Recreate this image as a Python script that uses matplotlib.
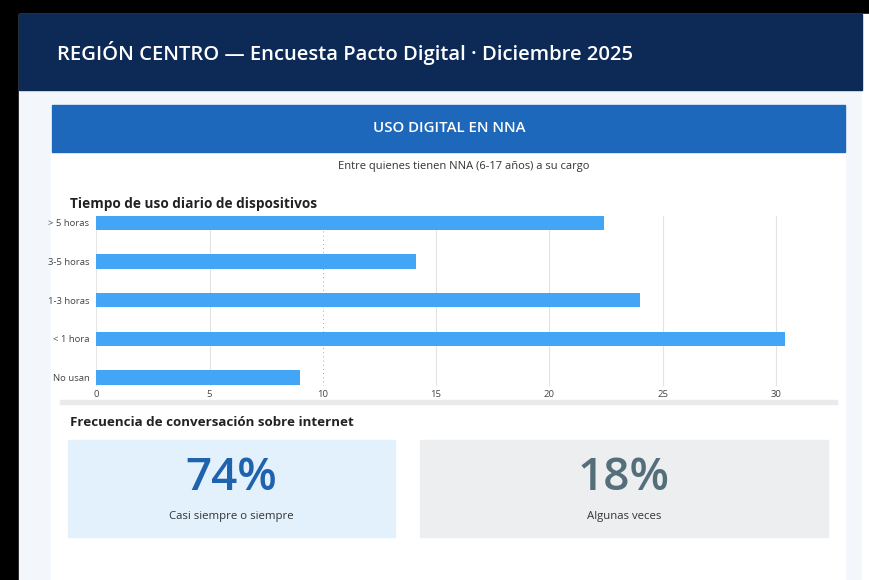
import matplotlib
matplotlib.use("Agg")
import matplotlib.pyplot as plt
from matplotlib.patches import Rectangle

plt.rcParams['font.family'] = ['Open Sans', 'DejaVu Sans']

# ---- data ----
title = "REGIÓN CENTRO — Encuesta Pacto Digital · Diciembre 2025"
banner = "USO DIGITAL EN NNA"
subtitle = "Entre quienes tienen NNA (6-17 años) a su cargo"
chart_title = "Tiempo de uso diario de dispositivos"
categories = ["> 5 horas", "3-5 horas", "1-3 horas", "< 1 hora", "No usan"]
values = [22.4, 14.1, 24.0, 30.4, 9.0]
xticks = [0, 5, 10, 15, 20, 25, 30]
freq_title = "Frecuencia de conversación sobre internet"
kpi_values = ["74%", "18%"]
kpi_labels = ["Casi siempre o siempre", "Algunas veces"]

W, H = 870, 580
fig = plt.figure(figsize=(W / 100, H / 100), dpi=100)
fig.patch.set_facecolor("white")


def rect(x0, y0, x1, y1):
    return [x0 / W, 1 - y1 / H, (x1 - x0) / W, (y1 - y0) / H]


def px(x, y):
    return x / W, 1 - y / H


# background layer
bg = fig.add_axes([0, 0, 1, 1])
bg.set_xlim(0, W)
bg.set_ylim(H, 0)
bg.axis("off")
bg.add_patch(Rectangle((0, 0), W, H, color="black", zorder=0))
bg.add_patch(Rectangle((19, 14), 843, H, color="#f3f7fc", zorder=1))
bg.add_patch(Rectangle((862, 14), 8, H, color="white", zorder=1))
bg.add_patch(Rectangle((51, 105), 794, H, color="white", zorder=2))
# header
bg.add_patch(Rectangle((19, 14), 843, 76, color="#0d2a57", zorder=3))
# banner
bg.add_patch(Rectangle((52, 105), 793, 47, color="#1e68bb", zorder=3))
# separator band
bg.add_patch(Rectangle((60, 400), 777, 4, color="#e9eaec", zorder=3))
# KPI cards
bg.add_patch(Rectangle((68, 440), 327, 97, color="#e3f1fc", zorder=3))
bg.add_patch(Rectangle((420, 440), 408, 97, color="#eceef0", zorder=3))

fig.text(*px(57, 53), title, color="white", fontsize=14.6, fontweight="semibold",
         ha="left", va="center")
fig.text(*px(449, 128), banner, color="white", fontsize=10.8, fontweight="semibold",
         ha="center", va="center")
fig.text(*px(464, 167), subtitle, color="#333333", fontsize=8, ha="center", va="center")
fig.text(*px(70, 204), chart_title, color="#222222", fontsize=9.8, fontweight="bold",
         ha="left", va="center")
fig.text(*px(70, 422), freq_title, color="#222222", fontsize=9.6, fontweight="bold",
         ha="left", va="center")

kpi_colors = ["#1f62ae", "#546e7a"]
kpi_x = [231, 624]
for v, lab, c, x in zip(kpi_values, kpi_labels, kpi_colors, kpi_x):
    fig.text(*px(x, 479), v, color=c, fontsize=33, fontweight="semibold",
             ha="center", va="center")
    fig.text(*px(x, 516), lab, color="#333333", fontsize=8.2, ha="center", va="center")

# bar chart
ax = fig.add_axes(rect(96.3, 216, 837, 386))
ax.set_facecolor("none")
ypos = list(range(len(categories)))
ax.barh(ypos, values, height=0.375, color="#42a5f5", zorder=3)
ax.set_xlim(0, 32.7)
ax.set_ylim(4.22, -0.18)
ax.set_yticks(ypos)
ax.set_yticklabels(categories)
ax.set_xticks(xticks)
for s in ax.spines.values():
    s.set_visible(False)
ax.tick_params(axis="both", length=0, labelcolor="#444444")
ax.tick_params(axis="y", pad=5, labelsize=6.8)
ax.tick_params(axis="x", pad=3, labelsize=6.8)
for t in xticks:
    if t == 10:
        ax.axvline(t, color="#888888", lw=0.6, ls=(0, (1, 4)), zorder=1)
    elif t == 0:
        ax.axvline(t, color="#e6e6e6", lw=0.8, zorder=1)
    else:
        ax.axvline(t, color="#e3e3e3", lw=0.8, zorder=1)

fig.savefig("out.png", dpi=100, facecolor=fig.get_facecolor())
